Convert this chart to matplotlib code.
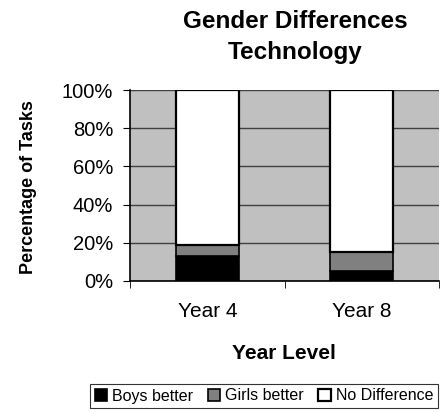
import numpy as np
import matplotlib.pyplot as plt
from matplotlib.ticker import PercentFormatter

plt.rcParams['font.family'] = ['Liberation Sans', 'DejaVu Sans']

years = ["Year 4", "Year 8"]
boys_better = [13, 5]
girls_better = [6, 10]
no_difference = [81, 85]

fig = plt.figure(figsize=(4.41, 4.12), dpi=100)
ax = fig.add_axes([130/441, 1-281/412, 309/441, 191/412])
ax.set_facecolor("#c0c0c0")

x = np.arange(len(years))
w = 0.41
b1 = np.array(boys_better)
b2 = b1 + np.array(girls_better)
ax.bar(x, boys_better, w, color="black", edgecolor="black", lw=1.2, label="Boys better", zorder=3)
ax.bar(x, girls_better, w, bottom=b1, color="#808080", edgecolor="black", lw=1.2, label="Girls better", zorder=3)
ax.bar(x, no_difference, w, bottom=b2, color="white", edgecolor="black", lw=1.6, label="No Difference", zorder=3)

ax.set_xlim(-0.5, 1.5)
ax.set_ylim(0, 100)
ax.set_yticks(range(0, 101, 20))
ax.yaxis.set_major_formatter(PercentFormatter(decimals=0))
ax.grid(axis="y", color="#404040", lw=1, zorder=1)
ax.set_xticks(x)
ax.set_xticklabels(years)
ax.set_xticks([-0.5, 0.5, 1.5], minor=True)
ax.tick_params(axis="x", which="major", length=0, pad=15, labelsize=15)
ax.tick_params(axis="x", which="minor", length=5, direction="out")
ax.tick_params(axis="y", length=5, labelsize=14.5, pad=7)
for s in ["top", "right"]:
    ax.spines[s].set_visible(False)
ax.spines["left"].set_linewidth(1.2)
ax.spines["bottom"].set_linewidth(1.2)

ax.set_ylabel("Percentage of Tasks", fontsize=13, fontweight="bold")
ax.yaxis.set_label_coords(37/441, 1-187/412, transform=fig.transFigure)
ax.set_xlabel("Year Level", fontsize=15, fontweight="bold")
ax.xaxis.set_label_coords(284/441, 1-344/412, transform=fig.transFigure)
fig.text(295/441, 1-37/412, "Gender Differences\nTechnology", ha="center", va="center",
         fontsize=17.5, fontweight="bold", linespacing=1.5)

leg = fig.legend(loc="center", bbox_to_anchor=(264/441, 1-396/412), ncol=3, fontsize=11.5,
                 frameon=True, fancybox=False, edgecolor="black", handlelength=0.8,
                 handleheight=0.8, handletextpad=0.3, columnspacing=0.9, borderpad=0.3)
leg.get_frame().set_linewidth(0.8)

fig.savefig("out.png", dpi=100)
